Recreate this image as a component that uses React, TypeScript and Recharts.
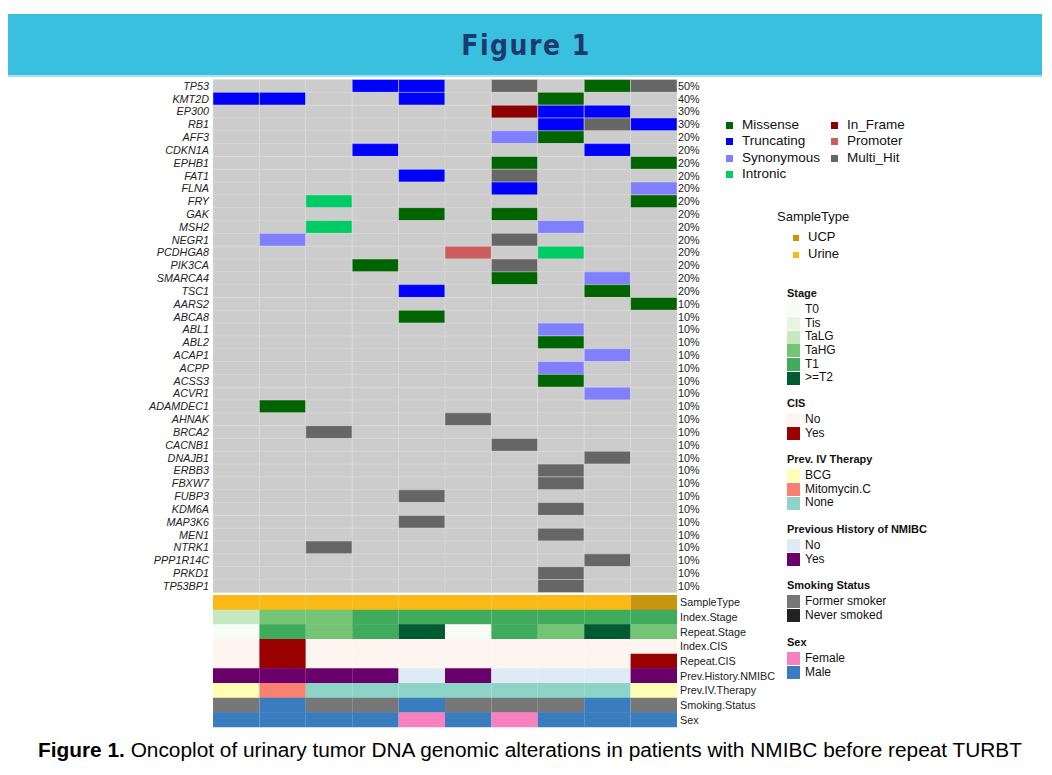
import React from 'react';
import { BarChart, Bar, XAxis, YAxis, Cell } from 'recharts';

const samples = ['S1', 'S2', 'S3', 'S4', 'S5', 'S6', 'S7', 'S8', 'S9', 'S10'];

// mutation codes per gene, one char per sample:
// M Missense, T Truncating, S Synonymous, I Intronic, F In_Frame, P Promoter, H Multi_Hit, . none
const genes = [
  'TP53', 'KMT2D', 'EP300', 'RB1', 'AFF3', 'CDKN1A', 'EPHB1', 'FAT1', 'FLNA', 'FRY',
  'GAK', 'MSH2', 'NEGR1', 'PCDHGA8', 'PIK3CA', 'SMARCA4', 'TSC1', 'AARS2', 'ABCA8', 'ABL1',
  'ABL2', 'ACAP1', 'ACPP', 'ACSS3', 'ACVR1', 'ADAMDEC1', 'AHNAK', 'BRCA2', 'CACNB1', 'DNAJB1',
  'ERBB3', 'FBXW7', 'FUBP3', 'KDM6A', 'MAP3K6', 'MEN1', 'NTRK1', 'PPP1R14C', 'PRKD1', 'TP53BP1',
];
const mutations = [
  '...TT.H.MH', 'TT..T..M..', '......FTT.', '.......THT', '......SM..',
  '...T....T.', '......M..M', '....T.H...', '......T..S', '..I......M',
  '....M.M...', '..I....S..', '.S....H...', '.....P.I..', '...M..H...',
  '......M.S.', '....T...M.', '.........M', '....M.....', '.......S..',
  '.......M..', '........S.', '.......S..', '.......M..', '........S.',
  '.M........', '.....H....', '..H.......', '......H...', '........H.',
  '.......H..', '.......H..', '....H.....', '.......H..', '....H.....',
  '.......H..', '..H.......', '........H.', '.......H..', '.......H..',
];

const mutationColors: Record<string, string> = {
  '.': '#cccccc',
  M: '#006400',
  T: '#0000ff',
  S: '#8080ff',
  I: '#00cc66',
  F: '#8b0000',
  P: '#cd5c5c',
  H: '#666666',
};

const annotationNames = [
  'SampleType', 'Index.Stage', 'Repeat.Stage', 'Index.CIS', 'Repeat.CIS',
  'Prev.History.NMIBC', 'Prev.IV.Therapy', 'Smoking.Status', 'Sex',
];
const sampleType = ['Urine', 'Urine', 'Urine', 'Urine', 'Urine', 'Urine', 'Urine', 'Urine', 'Urine', 'UCP'];
const indexStage = ['TaLG', 'TaHG', 'TaHG', 'T1', 'T1', 'T1', 'T1', 'T1', 'T1', 'T1'];
const repeatStage = ['T0', 'T1', 'TaHG', 'T1', '>=T2', 'T0', 'T1', 'TaHG', '>=T2', 'TaHG'];
const indexCis = ['No', 'Yes', 'No', 'No', 'No', 'No', 'No', 'No', 'No', 'No'];
const repeatCis = ['No', 'Yes', 'No', 'No', 'No', 'No', 'No', 'No', 'No', 'Yes'];
const prevHistory = ['Yes', 'Yes', 'Yes', 'Yes', 'No', 'Yes', 'No', 'No', 'No', 'Yes'];
const prevTherapy = ['BCG', 'Mitomycin.C', 'None', 'None', 'None', 'None', 'None', 'None', 'None', 'BCG'];
const smoking = ['Former', 'Other', 'Former', 'Former', 'Other', 'Former', 'Former', 'Former', 'Other', 'Former'];
const sex = ['Male', 'Male', 'Male', 'Male', 'Female', 'Male', 'Female', 'Male', 'Male', 'Male'];

const sampleTypeColors: Record<string, string> = { UCP: '#c8960e', Urine: '#fbb917' };
const stageColors: Record<string, string> = {
  T0: '#f7fcf5', Tis: '#e5f5e0', TaLG: '#c7e9c0', TaHG: '#74c476', T1: '#41ab5d', '>=T2': '#005a32',
};
const cisColors: Record<string, string> = { No: '#fff5f0', Yes: '#990000' };
const therapyColors: Record<string, string> = { BCG: '#ffffb3', 'Mitomycin.C': '#fb8072', None: '#8dd3c7' };
const historyColors: Record<string, string> = { No: '#deebf7', Yes: '#6a006a' };
const smokingColors: Record<string, string> = { Former: '#777777', Never: '#222222', Other: '#3a7dbf' };
const sexColors: Record<string, string> = { Female: '#f781bf', Male: '#3a7dbf' };

const annotationFills = [
  sampleType.map((v) => sampleTypeColors[v]),
  indexStage.map((v) => stageColors[v]),
  repeatStage.map((v) => stageColors[v]),
  indexCis.map((v) => cisColors[v]),
  repeatCis.map((v) => cisColors[v]),
  prevHistory.map((v) => historyColors[v]),
  prevTherapy.map((v) => therapyColors[v]),
  smoking.map((v) => smokingColors[v]),
  sex.map((v) => sexColors[v]),
];

const FONT = '"Liberation Sans", Arial, Helvetica, sans-serif';
const GRID_LEFT = 213;
const GRID_RIGHT = 677;

const geneData = genes.map((gene, g) => {
  const row: Record<string, any> = { gene };
  samples.forEach((_, i) => (row[`s${i}`] = 1));
  const hits = mutations[g].split('').filter((c) => c !== '.').length;
  row.pct = `${Math.round((hits / samples.length) * 100)}%`;
  return row;
});
const pctByGene: Record<string, string> = {};
geneData.forEach((r) => (pctByGene[r.gene] = r.pct));

const annotationData = annotationNames.map((name) => {
  const row: Record<string, any> = { name };
  samples.forEach((_, i) => (row[`s${i}`] = 1));
  return row;
});

const GeneTick = (props: any) => {
  const { y, payload } = props;
  return (
    <g>
      <text x={GRID_LEFT - 4} y={y} dy={3.9} textAnchor="end" fontSize={10.8} fontStyle="italic" fontFamily={FONT} fill="#222">
        {payload.value}
      </text>
      <text x={GRID_RIGHT + 1} y={y} dy={3.9} textAnchor="start" fontSize={10.8} fontFamily={FONT} fill="#222">
        {pctByGene[payload.value]}
      </text>
    </g>
  );
};

const AnnTick = (props: any) => {
  const { y, payload } = props;
  return (
    <text x={GRID_RIGHT + 3} y={y} dy={3.9} textAnchor="start" fontSize={10.8} fontFamily={FONT} fill="#222">
      {payload.value}
    </text>
  );
};

const Swatch = ({ color, size }: { color: string; size: number }) => (
  <span style={{ display: 'inline-block', width: size, height: size, background: color, marginRight: 5, verticalAlign: 'middle' }} />
);

const blocks = [
  { title: 'Stage', top: 286, items: [['T0', stageColors.T0], ['Tis', stageColors.Tis], ['TaLG', stageColors.TaLG], ['TaHG', stageColors.TaHG], ['T1', stageColors.T1], ['>=T2', stageColors['>=T2']]] },
  { title: 'CIS', top: 396, items: [['No', cisColors.No], ['Yes', cisColors.Yes]] },
  { title: 'Prev. IV Therapy', top: 452, items: [['BCG', therapyColors.BCG], ['Mitomycin.C', therapyColors['Mitomycin.C']], ['None', therapyColors.None]] },
  { title: 'Previous History of NMIBC', top: 522, items: [['No', historyColors.No], ['Yes', historyColors.Yes]] },
  { title: 'Smoking Status', top: 578, items: [['Former smoker', smokingColors.Former], ['Never smoked', smokingColors.Never]] },
  { title: 'Sex', top: 635, items: [['Female', sexColors.Female], ['Male', sexColors.Male]] },
];

const mutLegend = [
  { label: 'Missense', code: 'M', x: 726, y: 125 },
  { label: 'Truncating', code: 'T', x: 726, y: 141 },
  { label: 'Synonymous', code: 'S', x: 726, y: 158 },
  { label: 'Intronic', code: 'I', x: 726, y: 174 },
  { label: 'In_Frame', code: 'F', x: 831, y: 125 },
  { label: 'Promoter', code: 'P', x: 831, y: 141 },
  { label: 'Multi_Hit', code: 'H', x: 831, y: 158 },
];

export default function App() {
  return (
    <div style={{ position: 'absolute', left: 0, top: 0, width: 1052, height: 775, background: '#fff', fontFamily: FONT, overflow: 'hidden' }}>
      {/* banner */}
      <div style={{ position: 'absolute', left: 8, top: 14, width: 1034, height: 61, background: '#3ac0df', borderBottom: '2px solid #a8e2f0' }} />
      <div style={{ position: 'absolute', left: 0, top: 29, width: 1052, textAlign: 'center', fontFamily: '"DejaVu Sans Condensed", "DejaVu Sans", sans-serif', fontWeight: 'bold', fontSize: 28, letterSpacing: 1.5, color: '#1d3a6e' }}>
        Figure 1
      </div>

      {/* gene matrix */}
      <div style={{ position: 'absolute', left: 0, top: 0 }}>
        <BarChart
          width={760}
          height={600}
          data={geneData}
          layout="vertical"
          barCategoryGap={0}
          barGap={0}
          margin={{ top: 79.5, right: 83, bottom: 7.7, left: 113 }}
        >
          <XAxis type="number" domain={[0, samples.length]} hide />
          <YAxis type="category" dataKey="gene" width={100} interval={0} axisLine={false} tickLine={false} tick={<GeneTick />} />
          {samples.map((s, i) => (
            <Bar key={s} dataKey={`s${i}`} stackId="a" isAnimationActive={false}>
              {genes.map((g, gi) => (
                <Cell key={g} fill={mutationColors[mutations[gi][i]]} stroke="#dcdcdc" strokeWidth={0.5} />
              ))}
            </Bar>
          ))}
        </BarChart>
      </div>

      {/* annotation tracks */}
      <div style={{ position: 'absolute', left: 0, top: 0 }}>
        <BarChart
          width={800}
          height={740}
          data={annotationData}
          layout="vertical"
          barCategoryGap={0}
          barGap={0}
          margin={{ top: 595, right: 3, bottom: 13, left: GRID_LEFT }}
        >
          <XAxis type="number" domain={[0, samples.length]} hide />
          <YAxis type="category" dataKey="name" orientation="right" width={120} interval={0} axisLine={false} tickLine={false} tick={<AnnTick />} />
          {samples.map((s, i) => (
            <Bar key={s} dataKey={`s${i}`} stackId="a" isAnimationActive={false}>
              {annotationNames.map((n, ai) => (
                <Cell key={n} fill={annotationFills[ai][i]} />
              ))}
            </Bar>
          ))}
        </BarChart>
      </div>

      {/* mutation legend */}
      {mutLegend.map((m) => (
        <div key={m.label} style={{ position: 'absolute', left: m.x, top: m.y - 9, fontSize: 13.5, color: '#111', whiteSpace: 'nowrap', lineHeight: '18px' }}>
          <span style={{ display: 'inline-block', width: 7, height: 7, background: mutationColors[m.code], marginRight: 9, verticalAlign: 'middle' }} />
          {m.label}
        </div>
      ))}

      {/* sample type legend */}
      <div style={{ position: 'absolute', left: 777, top: 209, fontSize: 13, color: '#111' }}>SampleType</div>
      {[['UCP', sampleTypeColors.UCP, 237], ['Urine', sampleTypeColors.Urine, 254]].map(([l, c, y]) => (
        <div key={l as string} style={{ position: 'absolute', left: 793, top: (y as number) - 9, fontSize: 13, color: '#111', lineHeight: '18px' }}>
          <span style={{ display: 'inline-block', width: 6, height: 6, background: c as string, marginRight: 9, verticalAlign: 'middle' }} />
          {l}
        </div>
      ))}

      {/* clinical legends */}
      {blocks.map((b) => (
        <div key={b.title} style={{ position: 'absolute', left: 787, top: b.top, color: '#111' }}>
          <div style={{ fontSize: 11, fontWeight: 'bold', lineHeight: '14px', marginBottom: 3 }}>{b.title}</div>
          {b.items.map(([l, c]) => (
            <div key={l} style={{ fontSize: 12, lineHeight: '13.7px', height: 13.7, whiteSpace: 'nowrap' }}>
              <Swatch color={c} size={13} />
              {l}
            </div>
          ))}
        </div>
      ))}

      {/* caption */}
      <svg style={{ position: 'absolute', left: 0, top: 735 }} width={1052} height={30}>
        <text x={38} y={22} textLength={984} lengthAdjust="spacingAndGlyphs" fontSize={20} fontFamily={FONT} fill="#000">
          <tspan fontWeight="bold">Figure 1.</tspan>
          <tspan> Oncoplot of urinary tumor DNA genomic alterations in patients with NMIBC before repeat TURBT</tspan>
        </text>
      </svg>
    </div>
  );
}
